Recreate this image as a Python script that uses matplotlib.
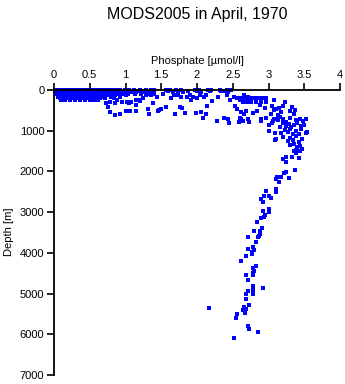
import matplotlib
matplotlib.use("Agg")
import matplotlib.pyplot as plt

plt.rcParams['font.family'] = ['Liberation Sans', 'DejaVu Sans']

title = "MODS2005 in April, 1970"
x_label = "Phosphate [\u00b5mol/l]"
y_label = "Depth [m]"
x_ticks = [0, 0.5, 1, 1.5, 2, 2.5, 3, 3.5, 4]
x_tick_labels = ["0", "0.5", "1", "1.5", "2", "2.5", "3", "3.5", "4"]
y_ticks = [0, 1000, 2000, 3000, 4000, 5000, 6000, 7000]

# Upper-layer casts: one row of phosphate values per sampled depth [m]
layer_depths = [0, 30, 60, 90, 120, 160, 200, 240, 290, 330]
layer_phosphate = [
    [0.01, 0.05, 0.09, 0.13, 0.17, 0.21, 0.25, 0.29, 0.33, 0.37, 0.41, 0.45, 0.49, 0.53,
     0.57, 0.61, 0.66, 0.71, 0.76, 0.81, 0.87, 0.93, 0.99, 1.05, 1.12, 1.2, 1.28, 1.35,
     1.4, 1.56, 1.62, 1.7, 1.78, 1.97, 2.03, 2.15, 2.2, 2.32, 2.42, 2.47],
    [0.02, 0.07, 0.12, 0.18, 0.23, 0.28, 0.34, 0.39, 0.44, 0.5, 0.55, 0.6, 0.65, 0.7,
     0.76, 0.82, 0.88, 0.95, 1.02, 1.1, 1.18, 1.26, 1.32, 1.6, 1.74, 1.88, 2.0, 2.18,
     2.34, 2.39],
    [0.03, 0.08, 0.14, 0.2, 0.26, 0.31, 0.36, 0.42, 0.47, 0.52, 0.58, 0.63, 0.68, 0.74,
     0.8, 0.86, 0.91, 0.98, 1.08, 1.15, 1.24, 1.36, 1.66, 1.8, 2.05, 2.44],
    [0.04, 0.1, 0.16, 0.22, 0.28, 0.33, 0.38, 0.44, 0.5, 0.56, 0.62, 0.67, 0.73, 0.79,
     0.84, 0.9, 0.97, 1.04, 1.13, 1.22, 1.3, 1.4, 1.52],
    [0.05, 0.11, 0.17, 0.23, 0.29, 0.35, 0.41, 0.47, 0.53, 0.59, 0.64, 0.7, 0.77, 0.85,
     0.93, 1.01, 1.28, 1.35, 1.68, 1.74, 1.9, 2.04, 2.12, 2.42, 2.66],
    [0.06, 0.12, 0.19, 0.25, 0.32, 0.39, 0.45, 0.51, 0.57, 0.63, 0.69, 0.8, 0.92, 1.44,
     1.78, 1.86, 1.95, 2.1, 2.3, 2.52, 2.72],
    [0.08, 0.14, 0.21, 0.27, 0.34, 0.4, 0.46, 0.52, 0.58, 0.64, 0.72, 0.84, 1.24, 1.64,
     2.0, 2.56, 2.62, 2.66, 2.7, 2.75, 2.8, 2.84, 2.88, 2.93, 2.97],
    [0.1, 0.16, 0.23, 0.3, 0.37, 0.43, 0.5, 0.56, 0.62, 0.88, 1.15, 1.2, 1.92, 2.46,
     2.6, 3.08],
    [0.78, 0.95, 1.02, 1.08, 2.64, 2.7, 2.76, 2.82, 2.9, 2.96, 3.23],
    [0.73, 0.86, 1.05, 1.38],
]

# Scattered samples in the thermocline and the phosphate maximum
scatter_phos = [0.76, 0.78, 0.85, 0.92, 1.0, 1.06, 1.14, 1.14, 1.2, 1.31, 1.33, 1.46,
                1.47, 1.49, 1.57, 1.69, 1.76, 1.79, 1.83, 1.99, 2.05, 2.09, 2.12, 2.14,
                2.21, 2.28, 2.38, 2.44, 2.45, 2.53, 2.56, 2.6, 2.62, 2.6, 2.69, 2.69,
                2.72, 2.59, 2.73, 2.9, 3.0, 3.07, 3.1, 3.17,
                2.88, 2.95, 3.05, 3.1, 3.15, 3.2, 3.33, 3.37,
                2.61, 2.66, 2.78, 2.84, 3.04, 3.08, 3.13, 3.18, 3.3, 3.35,
                2.62, 2.65, 2.9, 2.97, 3.06, 3.1, 3.13, 3.16, 3.2, 3.25, 3.3, 3.38, 3.44,
                3.48, 3.52,
                3.0, 3.05, 3.16, 3.2, 3.24, 3.28, 3.32, 3.36, 3.4, 3.45, 3.5,
                3.09, 3.23, 3.27, 3.3, 3.34, 3.38, 3.42, 3.46, 3.54, 3.53,
                3.2, 3.27, 3.3, 3.34, 3.38, 3.42, 3.47, 3.09,
                3.3, 3.35, 3.4, 3.44, 3.47, 3.38]
scatter_depth = [410, 530, 614, 590, 508, 508, 508, 369, 262, 475, 590, 516,
                 491, 475, 410, 597, 426, 434, 573, 573, 541, 680, 590, 393,
                 270, 762, 680, 720, 819, 393, 475, 680, 762, 229, 270, 516,
                 720, 778, 778, 754, 1000, 720, 1211, 1049,
                 380, 450, 400, 470, 430, 390, 410, 480,
                 540, 600, 560, 520, 580, 500, 610, 550, 520, 590,
                 700, 760, 720, 680, 770, 700, 740, 660, 720, 780, 690, 740, 700,
                 760, 720,
                 850, 800, 900, 820, 880, 840, 920, 860, 810, 890, 850,
                 1060, 980, 1040, 950, 1090, 1000, 1070, 960, 1020, 1049,
                 1150, 1260, 1180, 1220, 1140, 1280, 1200, 1230,
                 1350, 1320, 1410, 1380, 1440, 1474]

# Deep samples below 1500 m
deep_phos = [3.44, 3.36, 3.39, 3.42, 3.33, 3.24, 3.20, 3.25, 3.37, 3.24, 3.22, 3.17,
             3.12, 3.29, 3.10, 3.14, 2.97, 3.10, 3.10, 3.00, 3.03, 2.94, 2.90, 2.93,
             2.93, 3.00, 3.00, 2.95, 2.94, 2.90, 2.84, 2.91, 2.88, 2.80, 2.88, 2.87,
             2.86, 2.72, 2.82, 2.79, 2.72, 2.80, 2.77, 2.77, 2.69, 2.62, 2.83, 2.79,
             2.80, 2.78, 2.79, 2.68, 2.71, 2.78, 2.78, 2.93, 2.78, 2.72, 2.68, 2.79,
             2.68, 2.73, 2.66, 2.64, 2.68, 2.67, 2.56, 2.55, 2.17, 2.72, 2.73, 2.86,
             2.52]
deep_depth = [1491, 1491, 1555, 1678, 1654, 1654, 1703, 1776, 1966, 2022, 2047, 2145,
              2130, 2170, 2194, 2268, 2489, 2440, 2514, 2604, 2646, 2604, 2671, 2759,
              2980, 2931, 2998, 3079, 3113, 3145, 3243, 3391, 3464, 3464, 3538, 3587,
              3619, 3619, 3727, 3865, 3914, 3931, 3980, 4037, 4079, 4201, 4324, 4381,
              4440, 4489, 4538, 4545, 4668, 4808, 4848, 4865, 4914, 4946, 5012, 5012,
              5135, 5290, 5324, 5405, 5388, 5487, 5504, 5609, 5364, 5799, 5880, 5946,
              6101]

phos = []
depth = []
for d, row in zip(layer_depths, layer_phosphate):
    phos.extend(row)
    depth.extend([d] * len(row))
phos += scatter_phos + deep_phos
depth += scatter_depth + deep_depth

W, H = 345, 384
fig = plt.figure(figsize=(W / 100, H / 100), dpi=100)
ax = fig.add_axes([54 / W, 1 - 375 / H, (340 - 54) / W, (375 - 90) / H])

ax.scatter(phos, depth, s=4.8, marker='s', color='#0000ff', linewidths=0, clip_on=False)

ax.set_xlim(0, 4)
ax.set_ylim(7000, 0)
ax.xaxis.tick_top()
ax.set_xticks(x_ticks)
ax.set_xticklabels(x_tick_labels)
ax.set_yticks(y_ticks)
ax.tick_params(axis='both', direction='out', length=5, width=1.2, labelsize=8,
               colors='black', pad=2)
for side in ('right', 'bottom'):
    ax.spines[side].set_visible(False)
for side in ('top', 'left'):
    ax.spines[side].set_linewidth(1.3)

fig.text(197 / W, 1 - 14 / H, title, ha='center', va='center', fontsize=11.5)
fig.text(197 / W, 1 - 61 / H, x_label, ha='center', va='center', fontsize=8)
fig.text(9 / W, 1 - 232 / H, y_label, ha='center', va='center', fontsize=8,
         rotation=90)

fig.savefig("out.png", dpi=100)
